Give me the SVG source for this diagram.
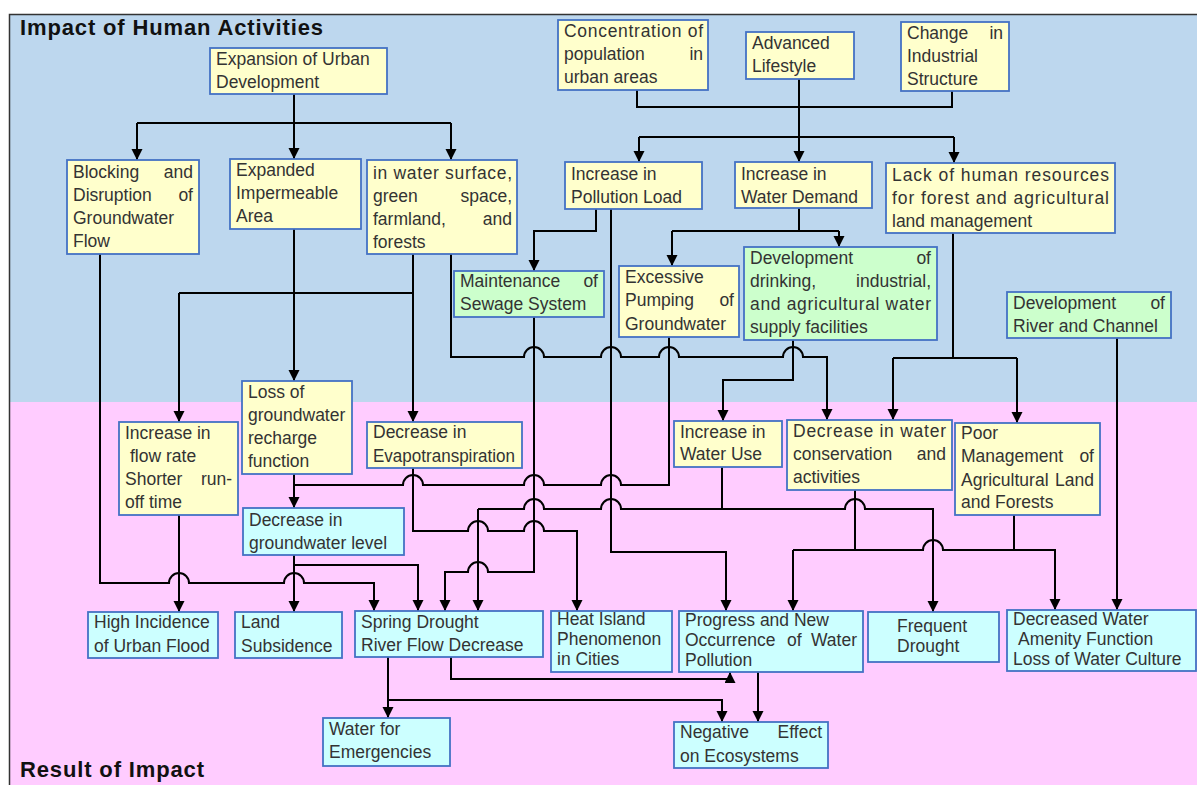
<svg xmlns="http://www.w3.org/2000/svg" width="1197" height="785" viewBox="0 0 1197 785">
<style>
.n rect{stroke:#4472C4;stroke-width:1.8}
.y rect{fill:#FFFFCC}
.g rect{fill:#CCFFCC}
.c rect{fill:#CCFFFF}
text{font-family:"Liberation Sans",Arial,sans-serif;font-size:17.5px;fill:#333}
text.r{text-anchor:end}
.t{font-size:22px;font-weight:bold;fill:#111}
#connectors path{fill:none;stroke:#000;stroke-width:2}
</style>
<defs>
<marker id="ah" markerUnits="userSpaceOnUse" markerWidth="12" markerHeight="12" refX="11" refY="5.5" orient="auto">
<path d="M0,0 L11,5.5 L0,11 z" fill="#000"/>
</marker>
</defs>
<rect x="0" y="0" width="1197" height="785" fill="#fff"/>
<rect x="9" y="14" width="1190" height="388" fill="#BDD7EE"/>
<rect x="9" y="402" width="1190" height="390" fill="#FFCCFF"/>
<rect x="9.5" y="14.5" width="1195" height="790" fill="none" stroke="#333" stroke-width="1.5"/>
<text class="t" x="20" y="35" textLength="303" lengthAdjust="spacing">Impact of Human Activities</text>
<text class="t" x="20" y="777" textLength="184" lengthAdjust="spacing">Result of Impact</text>

<g id="connectors">
<path d="M294 94 V159" marker-end="url(#ah)"/>
<path d="M137 123 H451"/>
<path d="M137 123 V160" marker-end="url(#ah)"/>
<path d="M451 123 V160" marker-end="url(#ah)"/>
<path d="M637 90 V107 H952 V91"/>
<path d="M799 79 V162" marker-end="url(#ah)"/>
<path d="M639 137 H954"/>
<path d="M639 137 V162" marker-end="url(#ah)"/>
<path d="M954 137 V163" marker-end="url(#ah)"/>
<path d="M596 209 V231 H534 V271" marker-end="url(#ah)"/>
<path d="M611 209 V552 H726 V611" marker-end="url(#ah)"/>
<path d="M799 208 V231"/>
<path d="M672 231 H839"/>
<path d="M672 231 V266" marker-end="url(#ah)"/>
<path d="M839 231 V247" marker-end="url(#ah)"/>
<path d="M953 233 V358"/>
<path d="M893 358 H1017"/>
<path d="M893 358 V420" marker-end="url(#ah)"/>
<path d="M1017 358 V423" marker-end="url(#ah)"/>
<path d="M451 254 V357 H524 A10 10 0 0 1 544 357 H601 A10 10 0 0 1 621 357 H659 A10 10 0 0 1 679 357 H783 A10 10 0 0 1 803 357 H827 V420" marker-end="url(#ah)"/>
<path d="M413 254 V422" marker-end="url(#ah)"/>
<path d="M179 293 H413"/>
<path d="M179 293 V422" marker-end="url(#ah)"/>
<path d="M294 229 V381" marker-end="url(#ah)"/>
<path d="M100 254 V583 H169 A10 10 0 0 1 189 583 H284 A10 10 0 0 1 304 583 H374 V611" marker-end="url(#ah)"/>
<path d="M179 515 V612" marker-end="url(#ah)"/>
<path d="M294 474 V508" marker-end="url(#ah)"/>
<path d="M669 337 V485 H621 A10 10 0 0 0 601 485 H544 A10 10 0 0 0 524 485 H423 A10 10 0 0 0 403 485 H294"/>
<path d="M413 468 V531 H468 A10 10 0 0 1 488 531 H524 A10 10 0 0 1 544 531 H577 V611" marker-end="url(#ah)"/>
<path d="M534 317 V572 H488 A10 10 0 0 0 468 572 H445 V611" marker-end="url(#ah)"/>
<path d="M722 467 V509"/>
<path d="M478 509 V611" marker-end="url(#ah)"/>
<path d="M478 509 H524 A10 10 0 0 1 544 509 H601 A10 10 0 0 1 621 509 H845 A10 10 0 0 1 865 509 H933 V612" marker-end="url(#ah)"/>
<path d="M294 555 V612" marker-end="url(#ah)"/>
<path d="M294 565 H418 V611" marker-end="url(#ah)"/>
<path d="M855 490 V550"/>
<path d="M1014 515 V550"/>
<path d="M793 550 H923 A10 10 0 0 1 943 550 H1055 V610" marker-end="url(#ah)"/>
<path d="M793 550 V611" marker-end="url(#ah)"/>
<path d="M1117 338 V610" marker-end="url(#ah)"/>
<path d="M793 340 V380 H723 V421" marker-end="url(#ah)"/>
<path d="M451 657 V679 H730 V672" marker-end="url(#ah)"/>
<path d="M388 657 V718" marker-end="url(#ah)"/>
<path d="M388 700 H722 V722" marker-end="url(#ah)"/>
<path d="M758 672 V722" marker-end="url(#ah)"/>
</g>

<g id="expansion" class="n y"><rect x="210" y="48" width="177" height="46"/>
<text x="216" y="65">Expansion of Urban</text><text x="216" y="88">Development</text></g>

<g id="concentration" class="n y"><rect x="558" y="20" width="150" height="70"/>
<text x="564" y="37" textLength="139" lengthAdjust="spacing">Concentration of</text>
<text x="564" y="60">population</text><text class="r" x="703" y="60">in</text>
<text x="564" y="83">urban areas</text></g>

<g id="lifestyle" class="n y"><rect x="746" y="32" width="108" height="47"/>
<text x="752" y="49">Advanced</text><text x="752" y="72">Lifestyle</text></g>

<g id="industrial" class="n y"><rect x="901" y="22" width="108" height="69"/>
<text x="907" y="39">Change</text><text class="r" x="1003" y="39">in</text>
<text x="907" y="62">Industrial</text><text x="907" y="85">Structure</text></g>

<g id="blocking" class="n y"><rect x="67" y="160" width="132" height="94"/>
<text x="73" y="178">Blocking</text><text class="r" x="193" y="178">and</text>
<text x="73" y="201">Disruption</text><text class="r" x="193" y="201">of</text>
<text x="73" y="224">Groundwater</text><text x="73" y="247">Flow</text></g>

<g id="impermeable" class="n y"><rect x="230" y="159" width="131" height="70"/>
<text x="236" y="176">Expanded</text><text x="236" y="199">Impermeable</text><text x="236" y="222">Area</text></g>

<g id="watersurface" class="n y"><rect x="367" y="160" width="150" height="94"/>
<text x="373" y="179" textLength="139" lengthAdjust="spacing">in water surface,</text>
<text x="373" y="202">green</text><text class="r" x="512" y="202">space,</text>
<text x="373" y="225">farmland,</text><text class="r" x="512" y="225">and</text>
<text x="373" y="248">forests</text></g>

<g id="pollutionload" class="n y"><rect x="565" y="162" width="137" height="47"/>
<text x="571" y="180">Increase in</text><text x="571" y="203">Pollution Load</text></g>

<g id="waterdemand" class="n y"><rect x="735" y="162" width="137" height="46"/>
<text x="741" y="180">Increase in</text><text x="741" y="203">Water Demand</text></g>

<g id="humanresources" class="n y"><rect x="886" y="163" width="229" height="70"/>
<text x="892" y="181" textLength="217" lengthAdjust="spacing">Lack of human resources</text>
<text x="892" y="204" textLength="217" lengthAdjust="spacing">for forest and agricultural</text>
<text x="892" y="227">land management</text></g>

<g id="sewage" class="n g"><rect x="454" y="271" width="150" height="46"/>
<text x="460" y="287">Maintenance</text><text class="r" x="598" y="287">of</text>
<text x="460" y="310">Sewage System</text></g>

<g id="pumping" class="n y"><rect x="619" y="266" width="120" height="71"/>
<text x="625" y="283">Excessive</text>
<text x="625" y="306">Pumping</text><text class="r" x="734" y="306">of</text>
<text x="625" y="330">Groundwater</text></g>

<g id="supplyfacilities" class="n g"><rect x="744" y="247" width="193" height="93"/>
<text x="750" y="264">Development</text><text class="r" x="931" y="264">of</text>
<text x="750" y="287">drinking,</text><text class="r" x="931" y="287">industrial,</text>
<text x="750" y="310" textLength="181" lengthAdjust="spacing">and agricultural water</text>
<text x="750" y="333">supply facilities</text></g>

<g id="riverchannel" class="n g"><rect x="1007" y="292" width="164" height="46"/>
<text x="1013" y="309">Development</text><text class="r" x="1165" y="309">of</text>
<text x="1013" y="332">River and Channel</text></g>

<g id="flowrate" class="n y"><rect x="119" y="422" width="119" height="93"/>
<text x="125" y="439">Increase in</text><text x="130" y="462">flow rate</text>
<text x="125" y="485">Shorter</text><text class="r" x="232" y="485">run-</text>
<text x="125" y="508">off time</text></g>

<g id="recharge" class="n y"><rect x="242" y="381" width="110" height="93"/>
<text x="248" y="398">Loss of</text><text x="248" y="421">groundwater</text><text x="248" y="444">recharge</text><text x="248" y="467">function</text></g>

<g id="evapotranspiration" class="n y"><rect x="367" y="422" width="155" height="46"/>
<text x="373" y="438">Decrease in</text><text x="373" y="462" textLength="142" lengthAdjust="spacingAndGlyphs">Evapotranspiration</text></g>

<g id="groundwaterlevel" class="n c"><rect x="243" y="508" width="161" height="47"/>
<text x="249" y="526">Decrease in</text><text x="249" y="549">groundwater level</text></g>

<g id="wateruse" class="n y"><rect x="674" y="421" width="108" height="46"/>
<text x="680" y="438">Increase in</text><text x="680" y="460">Water Use</text></g>

<g id="conservation" class="n y"><rect x="787" y="420" width="165" height="70"/>
<text x="793" y="437" textLength="153" lengthAdjust="spacing">Decrease in water</text>
<text x="793" y="460">conservation</text><text class="r" x="946" y="460">and</text>
<text x="793" y="483">activities</text></g>

<g id="poormanagement" class="n y"><rect x="955" y="423" width="145" height="92"/>
<text x="961" y="439">Poor</text>
<text x="961" y="462">Management</text><text class="r" x="1094" y="462">of</text>
<text x="961" y="486">Agricultural</text><text class="r" x="1094" y="486">Land</text>
<text x="961" y="508">and Forests</text></g>

<g id="urbanflood" class="n c"><rect x="88" y="612" width="130" height="46"/>
<text x="94" y="628">High Incidence</text><text x="94" y="652">of Urban Flood</text></g>

<g id="subsidence" class="n c"><rect x="235" y="612" width="107" height="46"/>
<text x="241" y="628">Land</text><text x="241" y="652">Subsidence</text></g>

<g id="springdrought" class="n c"><rect x="355" y="611" width="188" height="46"/>
<text x="361" y="628">Spring Drought</text><text x="361" y="651">River Flow Decrease</text></g>

<g id="heatisland" class="n c"><rect x="551" y="611" width="121" height="61"/>
<text x="557" y="625">Heat Island</text><text x="557" y="645">Phenomenon</text><text x="557" y="665">in Cities</text></g>

<g id="waterpollution" class="n c"><rect x="679" y="611" width="184" height="61"/>
<text x="685" y="626">Progress and New</text>
<text x="685" y="646">Occurrence</text><text x="787" y="646">of</text><text class="r" x="857" y="646">Water</text>
<text x="685" y="666">Pollution</text></g>

<g id="frequentdrought" class="n c"><rect x="868" y="612" width="131" height="50"/>
<text x="897" y="632">Frequent</text><text x="897" y="652">Drought</text></g>

<g id="amenity" class="n c"><rect x="1007" y="610" width="189" height="61"/>
<text x="1013" y="625">Decreased Water</text><text x="1018" y="645">Amenity Function</text><text x="1013" y="665">Loss of Water Culture</text></g>

<g id="emergencies" class="n c"><rect x="323" y="718" width="127" height="48"/>
<text x="329" y="735">Water for</text><text x="329" y="758">Emergencies</text></g>

<g id="ecosystems" class="n c"><rect x="674" y="722" width="154" height="46"/>
<text x="680" y="738">Negative</text><text class="r" x="822" y="738">Effect</text>
<text x="680" y="762">on Ecosystems</text></g>
</svg>
